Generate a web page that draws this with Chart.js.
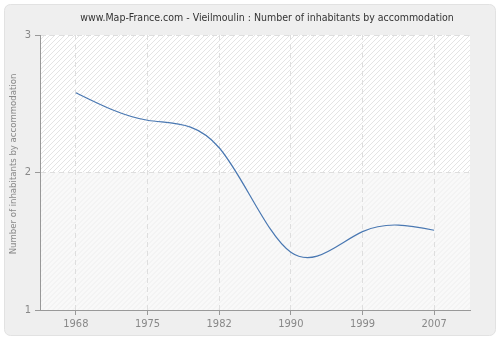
<!DOCTYPE html>
<html>
<head>
<meta charset="utf-8">
<script src="https://cdn.jsdelivr.net/npm/chart.js@4/dist/chart.umd.min.js"></script>
<style>
  html, body { margin: 0; padding: 0; background: #ffffff; }
  #wrap { width: 500px; height: 340px; }
</style>
</head>
<body>
<div id="wrap"><canvas id="grafica"></canvas></div>
<script>
// Datos
const anios = ['1968', '1975', '1982', '1990', '1999', '2007'];
const habitantes = [2.58, 2.38, 2.18, 1.42, 1.57, 1.58];
const ticksY = [1, 2, 3];

const titulo = 'www.Map-France.com - Vieilmoulin : Number of inhabitants by accommodation';
const tituloEje = 'Number of inhabitants by accommodation';
const fuente = "'DejaVu Sans Condensed', 'DejaVu Sans', sans-serif";

// Fondo del panel, rayado del área de trazado y textos
const fondo = {
    id: 'fondo',
    beforeDraw(chart) {
        const ctx = chart.ctx;
        const area = chart.chartArea;
        ctx.save();
        ctx.fillStyle = '#ffffff';
        ctx.fillRect(0, 0, chart.width, chart.height);

        // panel redondeado
        ctx.beginPath();
        ctx.roundRect(4.5, 4.5, 491, 331, 6);
        ctx.fillStyle = '#efefef';
        ctx.fill();
        ctx.strokeStyle = '#e2e2e2';
        ctx.lineWidth = 1;
        ctx.stroke();

        const yMedio = chart.scales.y.getPixelForValue(2);
        const ancho = area.right - area.left;
        rayado(ctx, area.left, area.top, ancho, yMedio - area.top, '#ffffff', '#e4e4e4');
        rayado(ctx, area.left, yMedio, ancho, area.bottom - yMedio, '#f9f9f9', '#eeeeee');

        // título
        ctx.fillStyle = '#333333';
        ctx.font = '10.5px ' + fuente;
        ctx.textAlign = 'center';
        ctx.textBaseline = 'middle';
        ctx.fillText(titulo, 267, 18);

        // título del eje Y
        ctx.translate(14, 164);
        ctx.rotate(-Math.PI / 2);
        ctx.fillStyle = '#888888';
        ctx.font = '9.5px ' + fuente;
        ctx.fillText(tituloEje, 0, 0);
        ctx.restore();
    }
};

function rayado(ctx, x, y, w, h, colorFondo, colorRaya) {
    ctx.save();
    ctx.fillStyle = colorFondo;
    ctx.fillRect(x, y, w, h);
    ctx.beginPath();
    ctx.rect(x, y, w, h);
    ctx.clip();
    ctx.strokeStyle = colorRaya;
    ctx.lineWidth = 1;
    for (let i = x - h; i < x + w + 6; i += 5) {
        ctx.beginPath();
        ctx.moveTo(i, y + h);
        ctx.lineTo(i + h, y);
        ctx.stroke();
    }
    ctx.restore();
}

// Spline cúbica natural: ajusta los puntos de control que usa Chart.js
const splineNatural = {
    id: 'splineNatural',
    beforeDatasetDraw(chart, args) {
        const meta = args.meta;
        const linea = meta.dataset;
        const pts = meta.data;
        const n = pts.length;
        if (!linea || n < 3) return;
        linea.updateControlPoints(chart.chartArea, 'x');

        const xs = pts.map(p => p.x);
        const ys = pts.map(p => p.y);
        const h = [];
        for (let i = 0; i < n - 1; i++) h.push(xs[i + 1] - xs[i]);

        // segundas derivadas (M0 = Mn = 0)
        const M = new Array(n).fill(0);
        const c = new Array(n).fill(0);
        const d = new Array(n).fill(0);
        for (let i = 1; i < n - 1; i++) {
            const a = h[i - 1], b = 2 * (h[i - 1] + h[i]), cc = h[i];
            const r = 6 * ((ys[i + 1] - ys[i]) / h[i] - (ys[i] - ys[i - 1]) / h[i - 1]);
            const den = b - a * c[i - 1];
            c[i] = cc / den;
            d[i] = (r - a * d[i - 1]) / den;
        }
        for (let i = n - 2; i >= 1; i--) M[i] = d[i] - c[i] * M[i + 1];

        // pendientes en cada punto
        const s = [];
        for (let i = 0; i < n - 1; i++) {
            s.push((ys[i + 1] - ys[i]) / h[i] - h[i] * (2 * M[i] + M[i + 1]) / 6);
        }
        s.push((ys[n - 1] - ys[n - 2]) / h[n - 2] + h[n - 2] * (M[n - 2] + 2 * M[n - 1]) / 6);

        for (let i = 0; i < n; i++) {
            const hl = i > 0 ? h[i - 1] / 3 : 0;
            const hr = i < n - 1 ? h[i] / 3 : 0;
            pts[i].cp1x = xs[i] - hl;
            pts[i].cp1y = ys[i] - s[i] * hl;
            pts[i].cp2x = xs[i] + hr;
            pts[i].cp2y = ys[i] + s[i] * hr;
        }
        linea._path = undefined;
    }
};

const ctx = document.getElementById('grafica').getContext('2d');
new Chart(ctx, {
    type: 'line',
    data: {
        labels: anios,
        datasets: [{
            data: habitantes,
            borderColor: '#4a78b2',
            borderWidth: 1.2,
            pointRadius: 0,
            tension: 0.4,
            fill: false
        }]
    },
    options: {
        responsive: true,
        maintainAspectRatio: false,
        animation: false,
        layout: { padding: { left: 5, right: 30, top: 35, bottom: 0 } },
        plugins: {
            legend: { display: false },
            tooltip: { enabled: false },
            title: { display: false }
        },
        scales: {
            x: {
                offset: true,
                grid: {
                    offset: false,
                    color: '#dedede',
                    tickColor: '#999999',
                    tickLength: 5
                },
                border: { color: '#999999', width: 1, dash: [5, 4] },
                ticks: {
                    color: '#888888',
                    font: { family: fuente, size: 11 },
                    padding: 3,
                    maxRotation: 0,
                    autoSkip: false
                },
                afterFit(scale) { scale.height = 30; }
            },
            y: {
                min: 1,
                max: 3,
                afterBuildTicks(scale) {
                    scale.ticks = ticksY.map(v => ({ value: v }));
                },
                grid: {
                    color: '#dedede',
                    tickColor: '#999999',
                    tickLength: 5
                },
                border: { color: '#999999', width: 1, dash: [5, 4] },
                ticks: {
                    color: '#888888',
                    font: { family: fuente, size: 11 },
                    padding: 4
                },
                afterFit(scale) { scale.width = 35; }
            }
        }
    },
    plugins: [fondo, splineNatural]
});
</script>
</body>
</html>
